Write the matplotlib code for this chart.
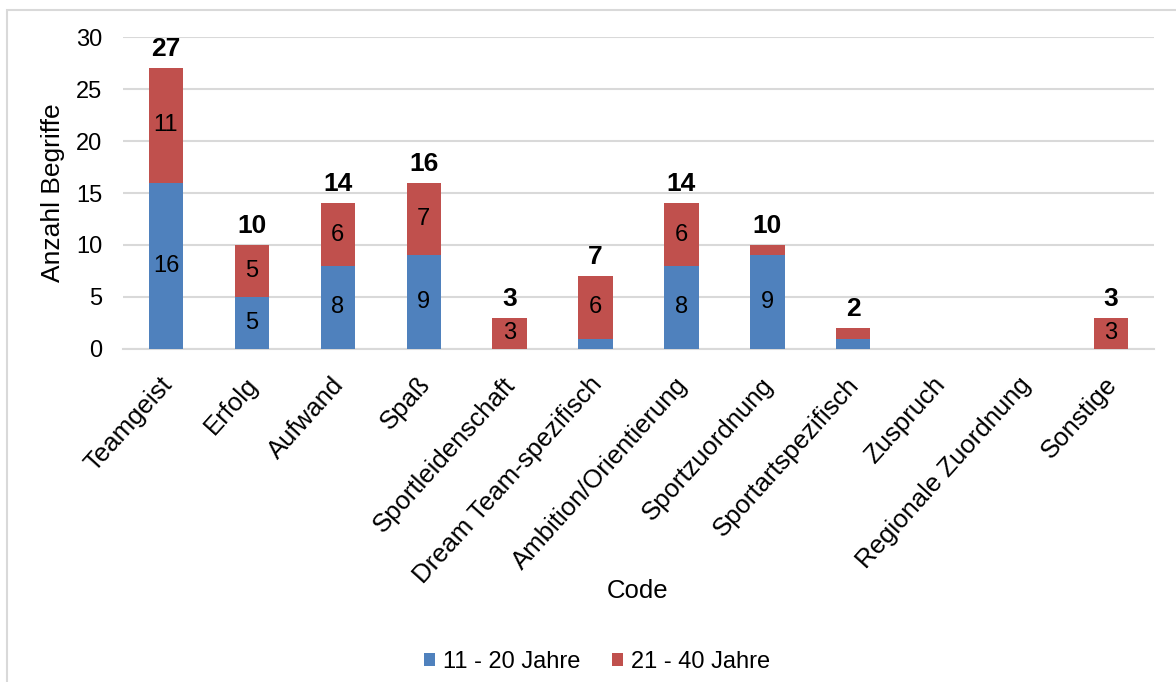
import numpy as np
import matplotlib.pyplot as plt
from matplotlib.patches import Rectangle
from matplotlib.transforms import ScaledTranslation

plt.rcParams['font.family'] = ['Liberation Sans', 'DejaVu Sans']

# Kategorien und Anzahl Begriffe je Altersgruppe
codes = ['Teamgeist', 'Erfolg', 'Aufwand', 'Spaß', 'Sportleidenschaft',
         'Dream Team-spezifisch', 'Ambition/Orientierung', 'Sportzuordnung',
         'Sportartspezifisch', 'Zuspruch', 'Regionale Zuordnung', 'Sonstige']
jahre_11_20 = [16, 5, 8, 9, 0, 1, 8, 9, 1, 0, 0, 0]
jahre_21_40 = [11, 5, 6, 7, 3, 6, 6, 1, 1, 0, 0, 3]

blau = '#4F81BD'
rot = '#C0504D'

fig = plt.figure(figsize=(11.76, 6.82), dpi=100)
ax = fig.add_axes([0.1046, 0.4883, 0.8767, 0.4574])

x = np.arange(len(codes))
a = np.array(jahre_11_20)
b = np.array(jahre_21_40)
summe = a + b

ax.bar(x, a, width=0.4, color=blau, label='11 - 20 Jahre', zorder=3)
ax.bar(x, b, width=0.4, bottom=a, color=rot, label='21 - 40 Jahre', zorder=3)

# Werte in den Segmenten (nur wenn genug Platz), Summe fett darüber
for i in range(len(codes)):
    if a[i] > 1:
        ax.text(x[i], a[i] / 2, str(a[i]), ha='center', va='center', fontsize=17, zorder=4)
    if b[i] > 1:
        ax.text(x[i], a[i] + b[i] / 2, str(b[i]), ha='center', va='center', fontsize=17, zorder=4)
    if summe[i] > 0:
        ax.annotate(str(summe[i]), (x[i], summe[i]), xytext=(0, 5), textcoords='offset points',
                    ha='center', va='bottom', fontsize=19, fontweight='bold')

ax.set_xlim(-0.5, len(codes) - 0.5)
ax.set_ylim(0, 30)
ax.set_yticks(range(0, 31, 5))
ax.yaxis.grid(True, color='#D9D9D9', linewidth=1.5, zorder=0)
ax.set_axisbelow(True)
for s in ['top', 'right', 'left']:
    ax.spines[s].set_visible(False)
ax.spines['bottom'].set_color('#D9D9D9')
ax.spines['bottom'].set_linewidth(1.5)
ax.tick_params(axis='both', length=0, labelsize=17)
ax.tick_params(axis='y', pad=15)
ax.tick_params(axis='x', pad=17)

ax.set_xticks(x)
ax.set_xticklabels(codes, rotation=48, ha='right', va='top', rotation_mode='anchor',
                   fontsize=18.5)
# Beschriftungen etwas nach links versetzen
verschiebung = ScaledTranslation(-7 / 100, 0, fig.dpi_scale_trans)
for lbl in ax.get_xticklabels():
    lbl.set_transform(lbl.get_transform() + verschiebung)

ax.set_ylabel('Anzahl Begriffe', fontsize=19, labelpad=8)

fig.text(0.5425, 0.1334, 'Code', ha='center', va='center', fontsize=18.5)

fig.legend(loc='center', bbox_to_anchor=(0.5077, 0.029), ncol=2, frameon=False,
           fontsize=17, handlelength=0.47, handleheight=0.47, handletextpad=0.35,
           columnspacing=1.35)

# Rahmen um das Diagramm
fig.patches.append(Rectangle((0.006, -0.2), 1.2, 0.2 + 0.9853, transform=fig.transFigure,
                             fill=False, edgecolor='#D9D9D9', linewidth=1.5))

fig.savefig('out.png', dpi=100)
